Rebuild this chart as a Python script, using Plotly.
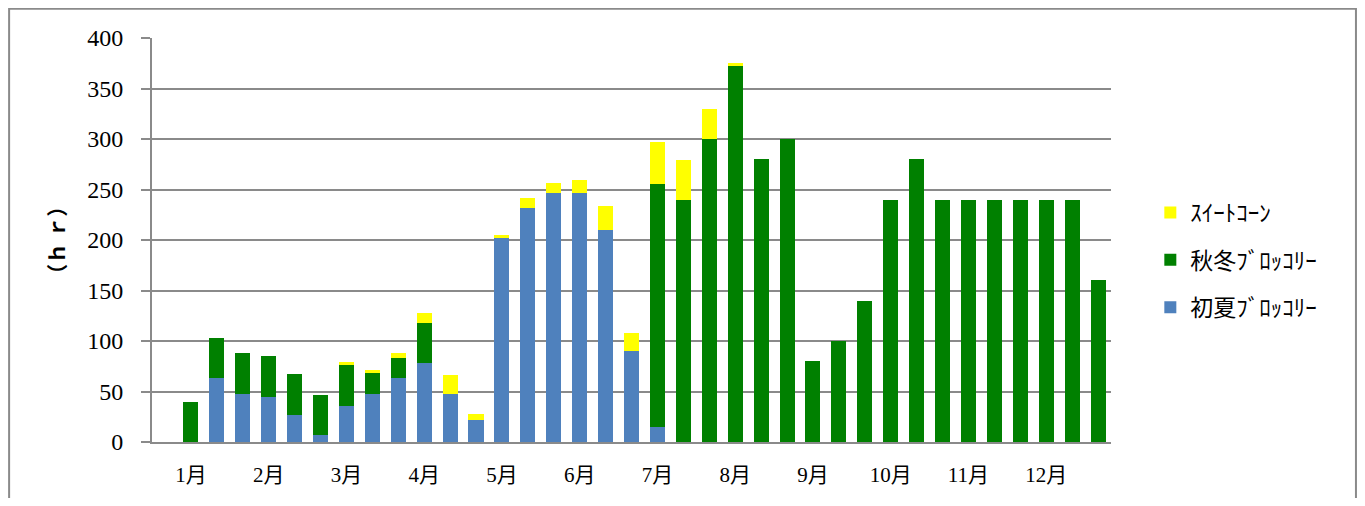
import plotly.graph_objects as go

months = ["1月", "2月", "3月", "4月", "5月", "6月", "7月", "8月", "9月", "10月", "11月", "12月"]
slots = list(range(36))  # 3 slots (上・中・下旬) per month

early_broccoli = [0, 63, 48, 45, 27, 7, 36, 48, 63, 78, 48, 22, 202, 232, 247, 247, 210, 90,
                  15, 0, 0, 0, 0, 0, 0, 0, 0, 0, 0, 0, 0, 0, 0, 0, 0, 0]
autumn_broccoli = [40, 40, 40, 40, 40, 40, 40, 20, 20, 40, 0, 0, 0, 0, 0, 0, 0, 0,
                   240, 240, 300, 372, 280, 300, 80, 100, 140, 240, 280, 240, 240, 240, 240, 240, 240, 160]
sweet_corn = [0, 0, 0, 0, 0, 0, 3, 3, 5, 10, 18, 6, 3, 10, 9, 12, 24, 18,
              42, 39, 30, 3, 0, 0, 0, 0, 0, 0, 0, 0, 0, 0, 0, 0, 0, 0]

y_ticks = [0, 50, 100, 150, 200, 250, 300, 350, 400]

OFF = 8  # page body margin
W, H = 1365 - 2 * OFF, 506 - 2 * OFF
# target page coordinates of plot area
PX0, PX1, PY0, PY1 = 152.3, 1110.7, 38.3, 441.7
L, T = PX0 - OFF, PY0 - OFF
R = W - (PX1 - OFF)
B = H - (PY1 - OFF)
pw = PX1 - PX0
ph = PY1 - PY0


def px(x):
    return (x - PX0) / pw


def py(y):
    return (PY1 - y) / ph


grid = "#8a8a8a"
serif = "Liberation Serif, DejaVu Serif, serif"
cjk = "Liberation Serif, Noto Sans CJK JP, serif"

fig = go.Figure()
series = [
    ("初夏ﾌﾞﾛｯｺﾘｰ", early_broccoli, "#4F81BD", "g1", 3),
    ("秋冬ﾌﾞﾛｯｺﾘｰ", autumn_broccoli, "#008000", "g2", 2),
    ("ｽｲｰﾄｺｰﾝ", sweet_corn, "#FFFF00", "g3", 1),
]
for name, vals, col, grp, rank in series:
    fig.add_trace(go.Bar(
        x=slots, y=vals, name=name, legendgroup=grp, legendrank=rank,
        marker=dict(color=col, line=dict(width=0)),
        width=0.58,
    ))

fig.update_layout(
    width=W, height=H,
    margin=dict(l=L, r=R, t=T, b=B, autoexpand=False),
    barmode="stack",
    paper_bgcolor="white", plot_bgcolor="white",
    showlegend=True,
    legend=dict(
        x=px(1150), xanchor="left",
        y=py(191), yanchor="top",
        traceorder="grouped",
        tracegroupgap=14.5,
        font=dict(family="Noto Sans CJK JP", size=23, color="#000"),
        itemwidth=30,
        bgcolor="rgba(0,0,0,0)",
    ),
    xaxis=dict(
        range=[-1.5, 35.5],
        tickmode="array", tickvals=[i * 3 for i in range(12)], ticktext=months,
        showgrid=False, zeroline=False,
        showline=True, linecolor=grid, linewidth=2,
        ticks="", ticklabelstandoff=13,
        tickfont=dict(family=cjk, size=21, color="#000"),
    ),
    yaxis=dict(
        range=[0, 400],
        tickmode="array", tickvals=y_ticks,
        showgrid=True, gridcolor=grid, gridwidth=2,
        zeroline=False,
        showline=True, linecolor=grid, linewidth=2,
        ticks="outside", ticklen=9, tickcolor=grid, tickwidth=2,
        ticklabelstandoff=13,
        tickfont=dict(family=serif, size=24, color="#000"),
    ),
    annotations=[dict(
        text="（ｈ ｒ）", textangle=-90,
        xref="paper", yref="paper",
        x=px(56), y=0.5, xanchor="center", yanchor="middle",
        showarrow=False,
        font=dict(family="Noto Sans CJK JP", size=21, color="#000", weight="bold"),
    )],
    shapes=[dict(
        type="rect", xref="paper", yref="paper",
        x0=px(9.5), x1=px(OFF + W - 1.5),
        y0=py(560), y1=py(9),
        line=dict(color="#8a8a8a", width=2), fillcolor="rgba(0,0,0,0)",
        layer="above",
    )],
)

fig.write_html("out.html")
